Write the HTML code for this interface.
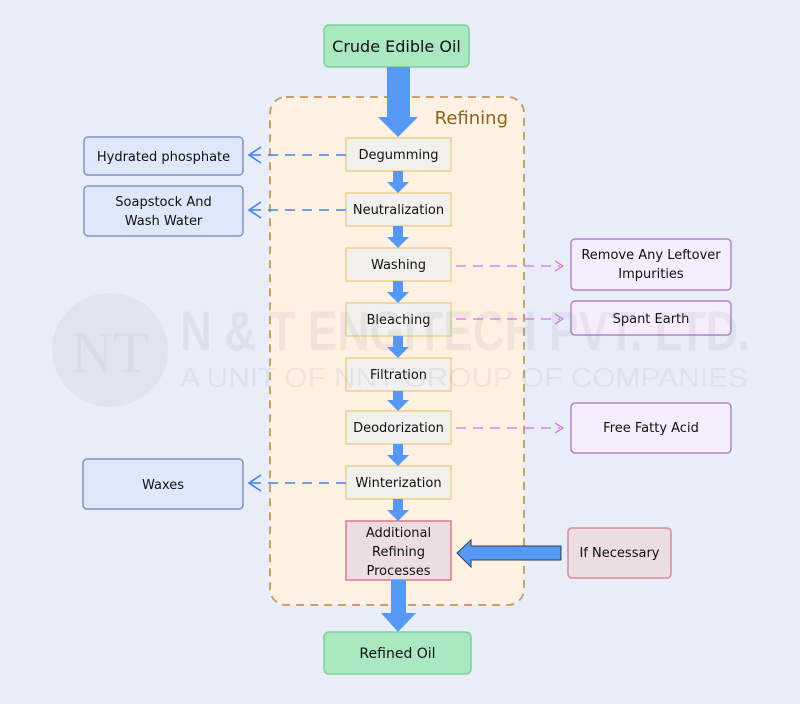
<!DOCTYPE html>
<html><head><meta charset="utf-8"><style>
html,body{margin:0;padding:0;background:#e8edf8;}
svg{display:block;font-family:"DejaVu Sans","Liberation Sans",sans-serif;}
</style></head><body>
<svg width="800" height="704" viewBox="0 0 800 704" xmlns="http://www.w3.org/2000/svg">
<rect width="800" height="704" fill="#e8edf8"/>
<!-- refining container -->
<rect x="270" y="97" width="254" height="508" rx="16" fill="#fff1e2" stroke="#c8a070" stroke-width="2" stroke-dasharray="8,6"/>
<text x="508" y="124" text-anchor="end" font-size="18" fill="#8a6418">Refining</text>
<!-- crude oil -->
<rect x="324" y="25" width="145" height="42" rx="5" fill="#a9e8c0" stroke="#7fcf9a" stroke-width="1.5"/>
<text x="396.5" y="52" text-anchor="middle" font-size="16" fill="#111">Crude Edible Oil</text>
<polygon points="387,67 410,67 410,117 418,117 398,137 378,117 387,117" fill="#5599f5"/>
<!-- process boxes -->
<g stroke="#ecd08a" stroke-width="1.5" fill="#f1f0ee">
<rect x="346" y="138" width="105" height="33"/>
<rect x="346" y="193" width="105" height="33"/>
<rect x="346" y="248" width="105" height="33"/>
<rect x="346" y="303" width="105" height="33"/>
<rect x="346" y="358" width="105" height="33"/>
<rect x="346" y="411" width="105" height="33"/>
<rect x="346" y="466" width="105" height="33"/>
</g>
<rect x="346" y="521" width="105" height="59" fill="#ecdde2" stroke="#d67a8e" stroke-width="1.5"/>
<g font-size="13" fill="#111" text-anchor="middle">
<text x="398.5" y="159">Degumming</text>
<text x="398.5" y="214">Neutralization</text>
<text x="398.5" y="269">Washing</text>
<text x="398.5" y="324">Bleaching</text>
<text x="398.5" y="379">Filtration</text>
<text x="398.5" y="432">Deodorization</text>
<text x="398.5" y="487">Winterization</text>
<text x="398.5" y="537">Additional</text>
<text x="398.5" y="556">Refining</text>
<text x="398.5" y="575">Processes</text>
</g>
<!-- small arrows -->
<g fill="#5599f5">
<polygon points="393,171 403,171 403,182 409,182 398,193 387,182 393,182"/>
<polygon points="393,226 403,226 403,237 409,237 398,248 387,237 393,237"/>
<polygon points="393,281 403,281 403,292 409,292 398,303 387,292 393,292"/>
<polygon points="393,336 403,336 403,347 409,347 398,358 387,347 393,347"/>
<polygon points="393,391 403,391 403,400 409,400 398,411 387,400 393,400"/>
<polygon points="393,444 403,444 403,455 409,455 398,466 387,455 393,455"/>
<polygon points="393,499 403,499 403,510 409,510 398,521 387,510 393,510"/>
<polygon points="391,580 406,580 406,613 416,613 398,632 381,613 391,613"/>
</g>
<!-- refined oil -->
<rect x="324" y="632" width="147" height="42" rx="5" fill="#a9e8c0" stroke="#7fcf9a" stroke-width="1.5"/>
<text x="397.5" y="658" text-anchor="middle" font-size="14" fill="#111">Refined Oil</text>
<!-- left boxes -->
<g fill="#dfe7fb" stroke="#7d95c8" stroke-width="1.5">
<rect x="84" y="137" width="159" height="38" rx="4"/>
<rect x="84" y="186" width="159" height="50" rx="4"/>
<rect x="83" y="459" width="160" height="50" rx="4"/>
</g>
<g font-size="13" fill="#111" text-anchor="middle">
<text x="163.5" y="161">Hydrated phosphate</text>
<text x="163.5" y="206">Soapstock And</text>
<text x="163.5" y="225">Wash Water</text>
<text x="163" y="489">Waxes</text>
</g>
<g stroke="#3f86f0" stroke-width="1.6" fill="none">
<line x1="346" y1="155" x2="250" y2="155" stroke-dasharray="10,7"/>
<polyline points="261,147 249,155 261,163"/>
<line x1="346" y1="210" x2="250" y2="210" stroke-dasharray="10,7"/>
<polyline points="261,202 249,210 261,218"/>
<line x1="346" y1="483" x2="250" y2="483" stroke-dasharray="10,7"/>
<polyline points="261,475 249,483 261,491"/>
</g>
<!-- right boxes -->
<g fill="#f6edfc" stroke="#b484cc" stroke-width="1.5">
<rect x="571" y="239" width="160" height="51" rx="4"/>
<rect x="571" y="301" width="160" height="34" rx="4"/>
<rect x="571" y="403" width="160" height="50" rx="4"/>
</g>
<g font-size="13" fill="#111" text-anchor="middle">
<text x="651" y="259">Remove Any Leftover</text>
<text x="651" y="278">Impurities</text>
<text x="651" y="323">Spant Earth</text>
<text x="651" y="432">Free Fatty Acid</text>
</g>
<g stroke="#d96ef0" stroke-width="1.3" fill="none">
<line x1="456" y1="266" x2="560" y2="266" stroke-dasharray="10,7"/>
<polyline points="555,261 563,266 555,271"/>
<line x1="456" y1="319" x2="560" y2="319" stroke-dasharray="10,7"/>
<polyline points="555,314 563,319 555,324"/>
<line x1="456" y1="428" x2="560" y2="428" stroke-dasharray="10,7"/>
<polyline points="555,423 563,428 555,433"/>
</g>
<!-- if necessary -->
<rect x="568" y="528" width="103" height="50" rx="4" fill="#ecdde2" stroke="#d88aa0" stroke-width="1.5"/>
<text x="619.5" y="557" text-anchor="middle" font-size="13" fill="#111">If Necessary</text>
<polygon points="561,546 471,546 471,540 457,553 471,567 471,560 561,560" fill="#5599f5" stroke="#2a3a5a" stroke-width="1"/>
<!-- watermark on top, faint -->
<g opacity="0.12" fill="#8a90a8">
<ellipse cx="110" cy="350" rx="58" ry="57" fill="#a0a6b8"/>
<text x="110" y="372" text-anchor="middle" font-family="Liberation Serif,serif" font-size="58" fill="#606676">NT</text>
<text x="180" y="350" font-family="Liberation Sans,sans-serif" font-weight="bold" font-size="56" textLength="570" lengthAdjust="spacingAndGlyphs">N &amp; T ENGITECH PVT. LTD.</text>
<text x="180" y="387" font-family="Liberation Sans,sans-serif" font-size="28" textLength="568" lengthAdjust="spacingAndGlyphs">A UNIT OF NNT GROUP OF COMPANIES</text>
</g>
</svg>
</body></html>
